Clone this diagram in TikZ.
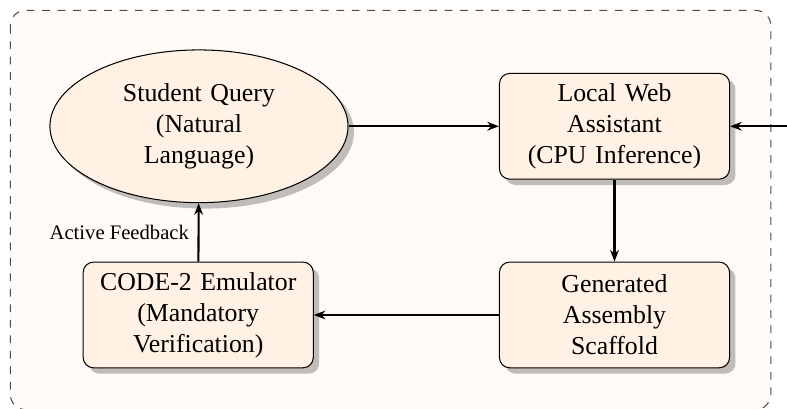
\documentclass[tikz,border=0pt]{standalone}
\usepackage{fontspec}
\setmainfont{Liberation Serif}
\usetikzlibrary{arrows.meta, positioning, shapes.geometric, shadows}

\begin{document}
\begin{tikzpicture}[
    every node/.style={font=\normalsize},
    process/.style={draw, rounded corners=4pt, fill=orange!10, drop shadow,
        text width=2.9cm, minimum height=1.44cm, align=center},
    query/.style={ellipse, draw, fill=orange!10, drop shadow, text width=2.5cm,
        minimum width=4.06cm, minimum height=2.08cm, align=center},
    flow/.style={thick, -{Stealth[length=4.5pt]}},
    frame/.style={draw=black!70, dashed, rounded corners=6pt, fill=orange!4}
]

% Canvas and dashed frame
\useasboundingbox (0,0) rectangle (10.72,-5.56);
\draw[frame] (0.14,-0.14) rectangle (10.50,-5.58);

% Nodes
\node[query] (query) at (2.71,-1.72) {Student Query\\ (Natural\\ Language)};
\node[process] (assistant) at (8.37,-1.72) {Local Web\\ Assistant\\ (CPU Inference)};
\node[process] (scaffold) at (8.37,-4.29) {Generated\\ Assembly\\ Scaffold};
\node[process] (emulator) at (2.70,-4.29) {CODE-2 Emulator\\ (Mandatory\\ Verification)};

% Incoming link from outside the frame
\coordinate (outside) at (10.72,-1.72);

% Loop
\draw[flow] (query) -- (assistant);
\draw[flow] (outside) -- (assistant);
\draw[flow] (assistant) -- (scaffold);
\draw[flow] (scaffold) -- (emulator);
\draw[flow] (emulator) -- (query)
    node[midway, left, font=\footnotesize] {Active Feedback};

\end{tikzpicture}
\end{document}
